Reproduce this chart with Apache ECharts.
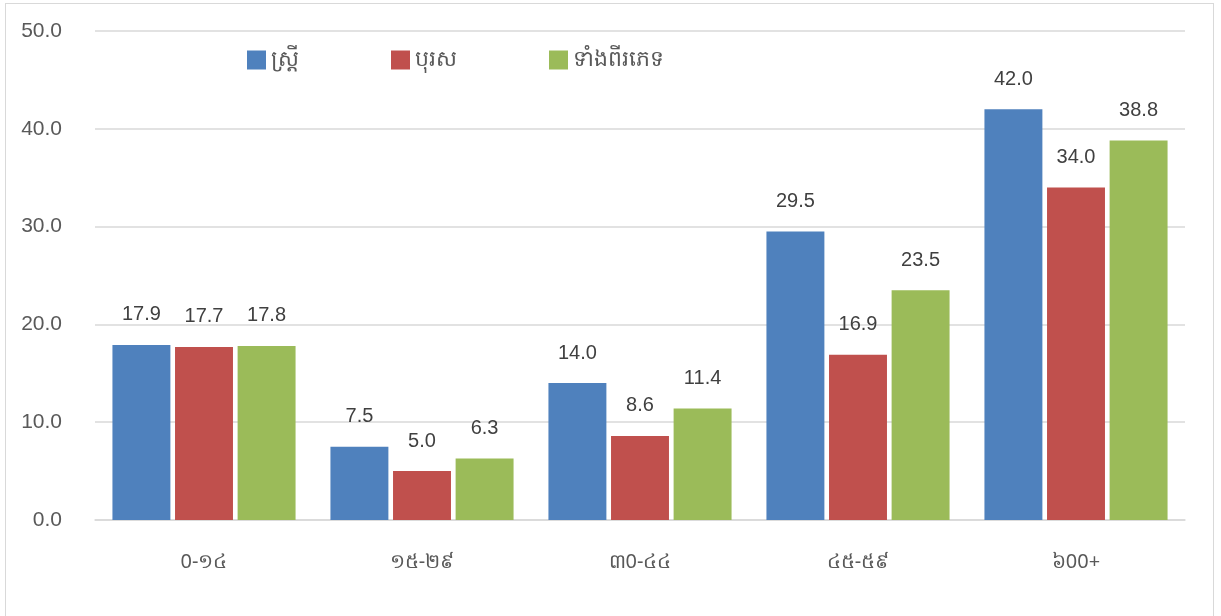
<!DOCTYPE html>
<html>
<head>
<meta charset="utf-8">
<script src="https://cdn.jsdelivr.net/npm/echarts@6/dist/echarts.min.js"></script>
<style>
  html, body { margin: 0; padding: 0; background: #fff; }
  #frame { position: absolute; left: 5px; top: 3px; width: 1209px; height: 620px; border: 1px solid #d9d9d9; box-sizing: border-box; }
  #chart { width: 1221px; height: 616px; }
</style>
</head>
<body>
<div id="frame"></div>
<div id="chart"></div>
<script>
// age groups (Khmer numerals)
const categories = ['0-១៤', '១៥-២៩', '៣0-៤៤', '៤៥-៥៩', '៦00+'];
const seriesNames = ['ស្ត្រី', 'បុរស', 'ទាំងពីរភេទ'];
const women = [17.9, 7.5, 14.0, 29.5, 42.0];
const men = [17.7, 5.0, 8.6, 16.9, 34.0];
const both = [17.8, 6.3, 11.4, 23.5, 38.8];
const colors = ['#4f81bd', '#c0504d', '#9bbb59'];

const font = '"Noto Sans", "DejaVu Sans", sans-serif';
const myChart = echarts.init(document.getElementById('chart'));

function bar(name, data, color) {
  return {
    name: name,
    type: 'bar',
    data: data,
    barGap: '8%',
    barCategoryGap: '16%',
    itemStyle: { color: color },
    label: {
      show: true,
      position: 'top',
      distance: 20,
      color: '#404040',
      fontSize: 20,
      fontFamily: 'Liberation Sans, Arial, sans-serif',
      formatter: p => p.value.toFixed(1)
    }
  };
}

const option = {
  animation: false,
  grid: { left: 95, right: 36, top: 31, bottom: 96 },
  legend: {
    left: 242,
    top: 44,
    itemWidth: 19,
    itemHeight: 19,
    itemGap: 92,
    icon: 'rect',
    textStyle: { color: '#595959', fontSize: 22, fontFamily: font }
  },
  xAxis: {
    type: 'category',
    data: categories,
    axisTick: { show: false },
    axisLine: { lineStyle: { color: '#d9d9d9', width: 1.5 } },
    axisLabel: { color: '#595959', fontSize: 20, margin: 32, fontFamily: font }
  },
  yAxis: {
    type: 'value',
    min: 0,
    max: 50,
    interval: 10,
    axisLine: { show: false },
    axisTick: { show: false },
    splitLine: { lineStyle: { color: '#d9d9d9', width: 1.5 } },
    axisLabel: {
      color: '#595959',
      fontSize: 21,
      margin: 33,
      fontFamily: 'Liberation Sans, Arial, sans-serif',
      formatter: v => v.toFixed(1)
    }
  },
  series: [
    bar(seriesNames[0], women, colors[0]),
    bar(seriesNames[1], men, colors[1]),
    bar(seriesNames[2], both, colors[2])
  ]
};
option && myChart.setOption(option);
</script>
</body>
</html>
